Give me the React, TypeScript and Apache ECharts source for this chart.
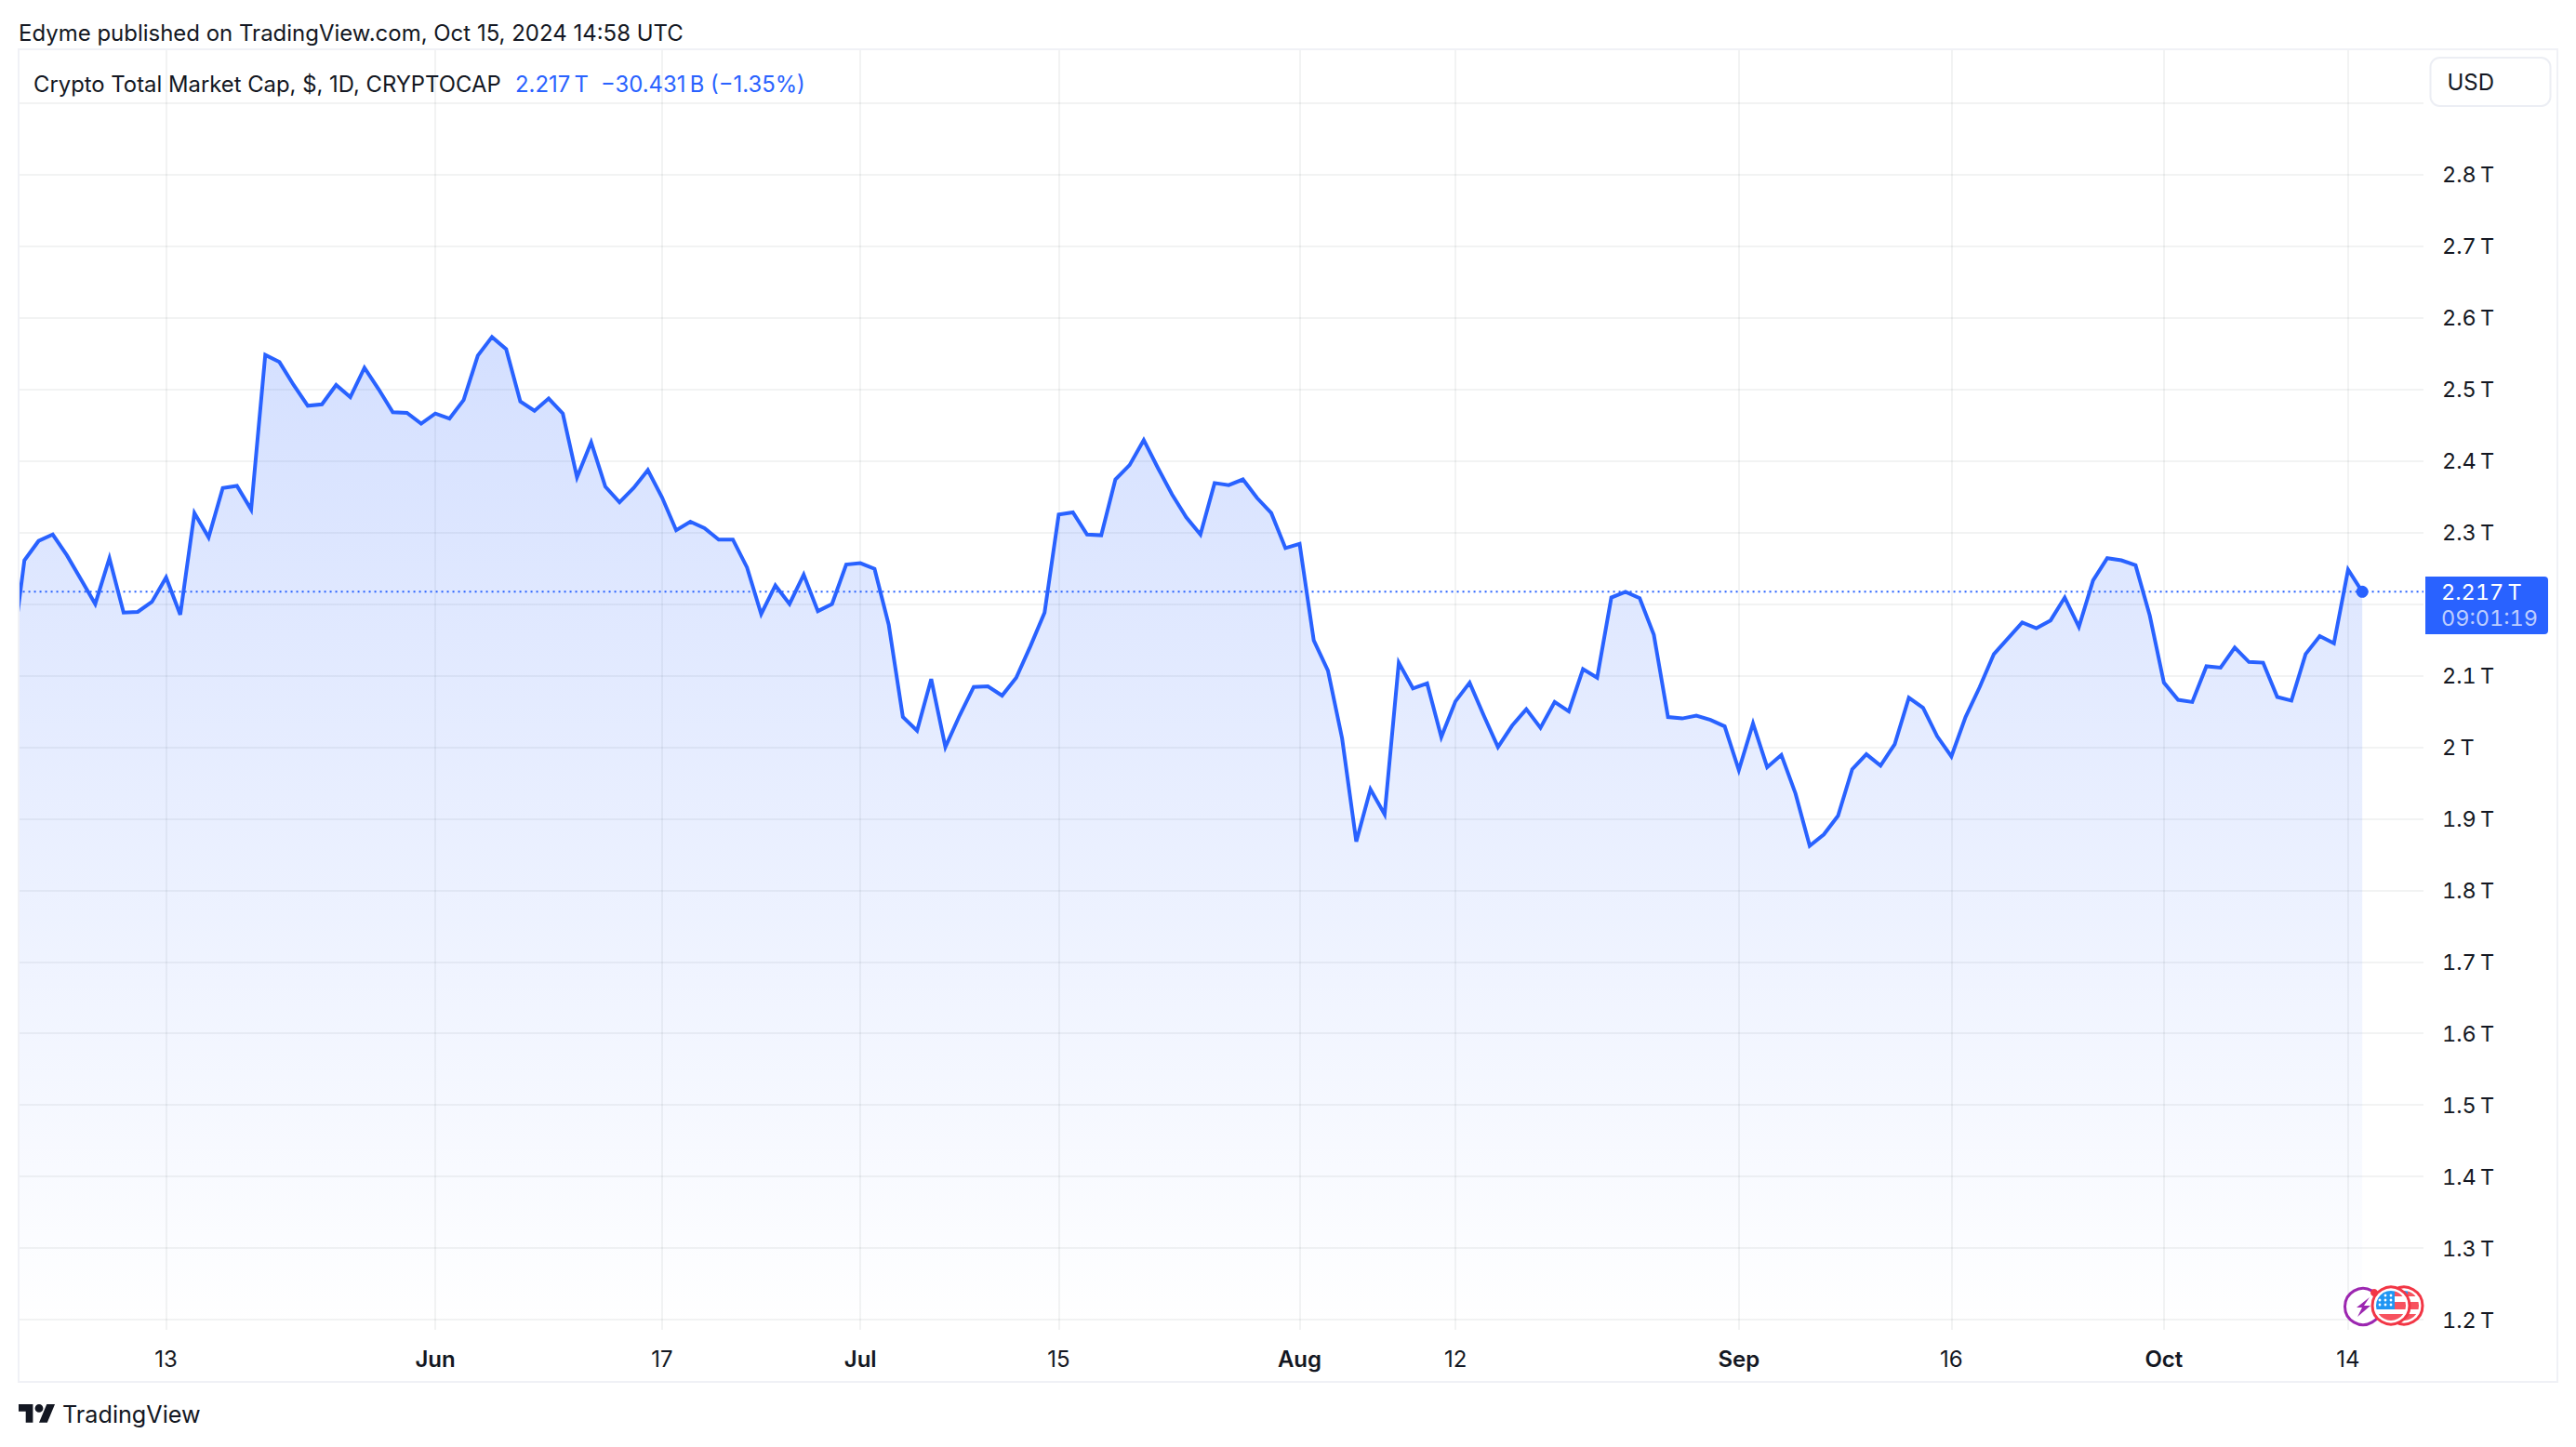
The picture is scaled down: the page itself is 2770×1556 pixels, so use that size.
import React, { useEffect, useRef } from "react";
import * as echarts from "echarts";

// Daily close of the total crypto market cap, in trillions of USD.
const mayValues = [2.108, 2.261, 2.288, 2.297, 2.268, 2.234, 2.2, 2.264, 2.188, 2.189, 2.203, 2.237, 2.185, 2.327, 2.293, 2.362, 2.365, 2.332, 2.548, 2.538, 2.506, 2.477, 2.479, 2.506, 2.489, 2.53, 2.5, 2.468, 2.467, 2.452];
const junValues = [2.466, 2.459, 2.485, 2.547, 2.573, 2.556, 2.483, 2.47, 2.487, 2.466, 2.377, 2.426, 2.364, 2.342, 2.362, 2.387, 2.349, 2.303, 2.315, 2.306, 2.29, 2.29, 2.251, 2.186, 2.226, 2.2, 2.241, 2.19, 2.2, 2.255];
const julValues = [2.257, 2.249, 2.171, 2.042, 2.023, 2.095, 2.0, 2.044, 2.084, 2.085, 2.072, 2.097, 2.141, 2.188, 2.325, 2.328, 2.297, 2.296, 2.374, 2.394, 2.429, 2.39, 2.353, 2.321, 2.297, 2.369, 2.366, 2.374, 2.348, 2.327, 2.278];
const augValues = [2.284, 2.149, 2.107, 2.012, 1.868, 1.941, 1.906, 2.118, 2.082, 2.089, 2.014, 2.064, 2.09, 2.044, 2.0, 2.03, 2.053, 2.027, 2.063, 2.05, 2.109, 2.097, 2.209, 2.217, 2.208, 2.157, 2.042, 2.04, 2.044, 2.038, 2.029];
const sepValues = [1.968, 2.033, 1.972, 1.989, 1.935, 1.862, 1.878, 1.904, 1.969, 1.99, 1.974, 2.004, 2.069, 2.055, 2.015, 1.987, 2.042, 2.084, 2.13, 2.152, 2.174, 2.166, 2.177, 2.209, 2.168, 2.233, 2.264, 2.261, 2.254, 2.184];
const octValues = [2.09, 2.066, 2.063, 2.113, 2.111, 2.139, 2.119, 2.118, 2.07, 2.065, 2.13, 2.155, 2.145, 2.248, 2.217];

const allValues = [...mayValues, ...junValues, ...julValues, ...augValues, ...sepValues, ...octValues];
const lastValue = 2.217;

// Day index counted from May 2.
const xMin = 0.59;
const xMax = 170.32;
const xTickDays = [11, 30, 46, 60, 74, 91, 102, 122, 137, 152, 165];
const xTickLabels = ["13", "Jun", "17", "Jul", "15", "Aug", "12", "Sep", "16", "Oct", "14"];
const monthLabels = ["Jun", "Jul", "Aug", "Sep", "Oct"];
const yGridValues = [1.2, 1.3, 1.4, 1.5, 1.6, 1.7, 1.8, 1.9, 2, 2.1, 2.2, 2.3, 2.4, 2.5, 2.6, 2.7, 2.8, 2.9];
const yLabelValues = [1.2, 1.3, 1.4, 1.5, 1.6, 1.7, 1.8, 1.9, 2, 2.1, 2.3, 2.4, 2.5, 2.6, 2.7, 2.8];

const FONT = "Inter, 'Noto Sans', sans-serif";
// Axis texts use tabular figures, switched on by the style rule in App.
const AXIS_FONT = "Inter, 'Open Sans', sans-serif";
const INK = "#131722";
const BLUE = "#2962ff";
const FRAME = "#f0f1f6";
const RED = "#f23645";
const NARROW = "\u202f";

echarts.graphic.registerShape(
  "tvLogo",
  echarts.graphic.extendPath(
    "M14 22H7V11H0V4h14v18zM28 22h-8l7.5-18h8L28 22zM24 8a4 4 0 1 1-8 0a4 4 0 1 1 8 0z",
    {}
  )
);
echarts.graphic.registerShape(
  "flagCanton",
  echarts.graphic.extendPath("M20 0.5A16 16 0 0 0 0.5 20L20 20Z", {})
);
echarts.graphic.registerShape(
  "flagStripes",
  echarts.graphic.extendPath(
    "M20 0.5A16 16 0 0 1 28.5 6L20 6ZM20 12L31.5 12A16 16 0 0 1 31.5 20L20 20ZM2.8 25L29.2 25A16 16 0 0 1 2.8 25Z",
    {}
  )
);

function flag(cx: number, cy: number, z: number) {
  const stars: any[] = [];
  [[-6, -11], [0, -11], [-12, -6], [-6, -6], [0, -6], [-12, -1], [-6, -1], [0, -1]].forEach(([dx, dy]) => {
    stars.push({ type: "circle", shape: { cx: cx + dx, cy: cy + dy, r: 1.4 }, style: { fill: "#fff" }, z });
  });
  return [
    { type: "circle", shape: { cx, cy, r: 20 }, style: { fill: "#fff", stroke: RED, lineWidth: 3 }, z },
    { type: "flagStripes", x: cx - 16, y: cy - 16, style: { fill: "#f7525f" }, z },
    { type: "flagCanton", x: cx - 16, y: cy - 16, style: { fill: "#2196f3" }, z },
    ...stars,
  ];
}

function label(text: string, x: number, y: number, fontSize: number, fill: string, fontFamily: string = FONT) {
  return {
    type: "text",
    x,
    y,
    z: 30,
    style: { text, fill, fontSize, fontFamily, align: "left", verticalAlign: "middle" },
  };
}

export default function App() {
  const ref = useRef<HTMLDivElement>(null);

  useEffect(() => {
    document.body.style.margin = "0";
    const chart = echarts.init(ref.current!, undefined, { renderer: "svg" });
    chart.setOption({
      animation: false,
      backgroundColor: "#ffffff",
      grid: { left: 20, right: 164, top: 53, height: 1377, containLabel: false },
      xAxis: {
        type: "value",
        min: xMin,
        max: xMax,
        axisLine: { show: false },
        axisTick: { show: false, customValues: xTickDays },
        splitLine: { show: true, lineStyle: { color: "rgba(42,46,57,0.06)", width: 2 } },
        axisLabel: {
          customValues: xTickDays,
          margin: 19,
          color: INK,
          fontFamily: AXIS_FONT,
          fontSize: 24,
          formatter: (v: number) => {
            const t = xTickLabels[xTickDays.indexOf(v)] ?? "";
            return monthLabels.includes(t) ? `{m|${t}}` : t;
          },
          rich: { m: { fontFamily: FONT, fontSize: 24, fontWeight: 600, color: INK } },
        },
      },
      yAxis: {
        type: "value",
        position: "right",
        min: 1.1858,
        max: 2.975,
        axisLine: { show: false },
        axisTick: { show: false, customValues: yGridValues },
        splitLine: { show: true, lineStyle: { color: "rgba(42,46,57,0.06)", width: 2 } },
        axisLabel: {
          customValues: yLabelValues,
          margin: 20,
          color: INK,
          fontFamily: AXIS_FONT,
          fontSize: 23.5,
          formatter: (v: number) => `${Math.round(v * 10) / 10}${NARROW}T`,
        },
      },
      series: [
        {
          type: "line",
          data: allValues.map((v, i) => [i, v]),
          showSymbol: false,
          symbol: "none",
          clip: true,
          silent: true,
          z: 3,
          lineStyle: { color: BLUE, width: 4, join: "miter", cap: "butt" },
          areaStyle: {
            origin: "start",
            opacity: 1,
            color: new echarts.graphic.LinearGradient(0, 0, 0, 1, [
              { offset: 0, color: "rgba(41,98,255,0.2)" },
              { offset: 1, color: "rgba(41,98,255,0)" },
            ]),
          },
        },
        {
          type: "line",
          data: [[xMin + 0.3, lastValue], [xMax, lastValue]],
          showSymbol: false,
          symbol: "none",
          silent: true,
          z: 2,
          lineStyle: { color: BLUE, width: 2, type: [2, 4] },
        },
        {
          type: "scatter",
          data: [[allValues.length - 1, lastValue]],
          symbol: "circle",
          symbolSize: 13,
          silent: true,
          z: 4,
          itemStyle: { color: BLUE, opacity: 1 },
        },
      ],
      graphic: {
        elements: [
          { type: "rect", shape: { x: 0, y: 40, width: 19, height: 1400 }, style: { fill: "#fff" }, z: 4 },
          { type: "rect", shape: { x: 20, y: 53, width: 2730, height: 1433 }, style: { fill: "none", stroke: FRAME, lineWidth: 2 }, z: 5 },
          label("Edyme published on TradingView.com, Oct 15, 2024 14:58 UTC", 20, 35, 23.97, INK),
          label("Crypto Total Market Cap, $, 1D, CRYPTOCAP", 36, 90, 23.85, INK),
          label(`2.217${NARROW}T`, 554, 90, 23.85, BLUE),
          label(`\u221230.431${NARROW}B (\u22121.35%)`, 646, 90, 23.85, BLUE),
          { type: "rect", shape: { x: 2613.5, y: 62, width: 129, height: 52, r: 10 }, style: { fill: "#fff", stroke: "#eceef4", lineWidth: 2 }, z: 20 },
          label("USD", 2631.5, 88, 24, INK),
          { type: "rect", shape: { x: 2608, y: 620, width: 132, height: 62, r: [0, 4, 4, 0] }, style: { fill: BLUE }, z: 20 },
          label(`2.217${NARROW}T`, 2625, 636, 23.5, "#ffffff", AXIS_FONT),
          label("09:01:19", 2625, 664, 23.5, "rgba(255,255,255,0.7)", AXIS_FONT),
          { type: "circle", shape: { cx: 2541, cy: 1405, r: 19.5 }, style: { fill: "#fff", stroke: "#9c27b0", lineWidth: 3 }, z: 20 },
          { type: "polygon", shape: { points: [[2548, 1395], [2534, 1406], [2540, 1406], [2535, 1416], [2549, 1404], [2542, 1404]] }, style: { fill: "#9c27b0" }, z: 20 },
          ...flag(2585, 1404, 21),
          ...flag(2571, 1404, 22),
          { type: "circle", shape: { cx: 2553, cy: 1390, r: 4 }, style: { fill: RED }, z: 23 },
          { type: "tvLogo", x: 20, y: 1505.6, scaleX: 1.1, scaleY: 1.1, style: { fill: INK }, z: 30 },
          label("TradingView", 67, 1521, 25.2, INK),
        ],
      },
    });
    return () => chart.dispose();
  }, []);

  return (
    <>
      <style>{`svg text[style*="Open Sans"] { font-feature-settings: "tnum" 1; font-variant-numeric: tabular-nums; }`}</style>
      <div ref={ref} style={{ position: "fixed", left: 0, top: 0, width: 2770, height: 1556 }} />
    </>
  );
}
